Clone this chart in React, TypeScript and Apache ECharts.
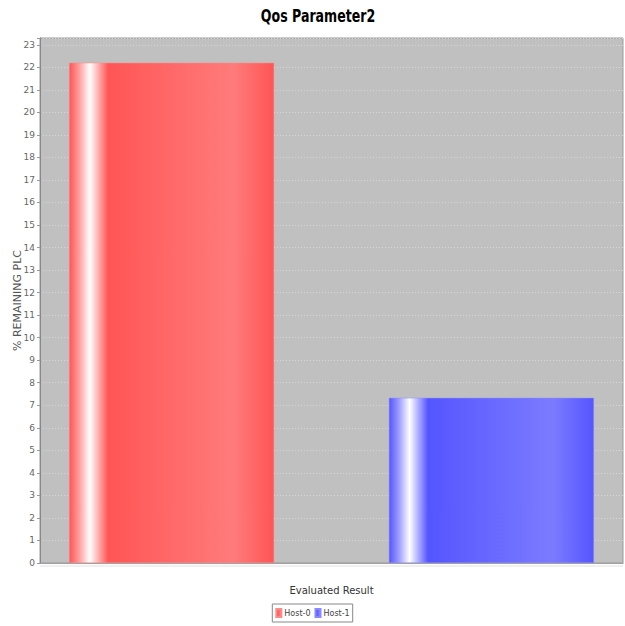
import React, { useEffect, useRef } from "react";
import * as echarts from "echarts";

const chartTitle = "Qos Parameter2";
const categories = [""];
const seriesNames = ["Host-0", "Host-1"];
const host0Values = [22.2];
const host1Values = [7.33];
const baseColors = ["#FF5555", "#5555FF"];
const lightColors = ["#FF7B7B", "#7B7BFF"];
const midColors = ["#FFA0A0", "#A0A0FF"];

// Shaded horizontal gradient, like a 3D-ish painted bar
const barGradient = (i: number) =>
  new echarts.graphic.LinearGradient(0, 0, 1, 0, [
    { offset: 0, color: baseColors[i] },
    { offset: 0.05, color: midColors[i] },
    { offset: 0.1, color: "#FFFFFF" },
    { offset: 0.15, color: midColors[i] },
    { offset: 0.19, color: baseColors[i] },
    { offset: 0.8, color: lightColors[i] },
    { offset: 0.801, color: lightColors[i] },
    { offset: 1, color: baseColors[i] },
  ]);

export default function App() {
  const ref = useRef<HTMLDivElement>(null);

  useEffect(() => {
    if (!ref.current) return;
    const chart = echarts.init(ref.current, undefined, { renderer: "svg" });
    const plain = "'DejaVu Sans', sans-serif";
    chart.setOption({
      animation: false,
      backgroundColor: "#FFFFFF",
      graphic: [
        // condensed bold title, squeezed horizontally
        {
          type: "text",
          x: 318,
          y: 16,
          scaleX: 0.74,
          style: {
            text: chartTitle,
            fill: "#000",
            font: "bold 17px 'DejaVu Sans', sans-serif",
            textAlign: "center",
            textVerticalAlign: "middle",
          },
        },
        // faint double rule under the plot area
        {
          type: "line",
          shape: { x1: 40, y1: 566, x2: 623, y2: 566 },
          style: { stroke: "#E2E2E2", lineWidth: 1 },
        },
      ],
      legend: {
        data: seriesNames,
        bottom: 4,
        left: "center",
        icon: "rect",
        itemWidth: 5,
        itemHeight: 8,
        itemGap: 4,
        padding: [4, 3],
        borderColor: "#888",
        borderWidth: 1,
        textStyle: { fontFamily: plain, fontSize: 8, color: "#444", padding: [0, 0, 0, -2] },
      },
      grid: {
        left: 40,
        right: 2,
        top: 38,
        bottom: 63,
        outerBoundsMode: "none",
        show: true,
        backgroundColor: "#C0C0C0",
        borderColor: "#9A9A9A",
        borderWidth: 1,
      },
      xAxis: {
        type: "category",
        data: categories,
        name: "Evaluated Result",
        nameLocation: "middle",
        nameGap: 22,
        nameTextStyle: { fontFamily: plain, fontSize: 10, color: "#333" },
        axisLine: { lineStyle: { color: "#A0A0A0" } },
        axisTick: { alignWithLabel: true, length: 3, lineStyle: { color: "#999" } },
        axisLabel: { show: false },
      },
      yAxis: {
        type: "value",
        min: 0,
        max: 23.3,
        interval: 1,
        name: "% REMAINING PLC",
        nameLocation: "middle",
        nameGap: 17,
        nameMoveOverlap: false,
        nameTextStyle: { fontFamily: plain, fontSize: 11, color: "#555" },
        axisLine: { show: true, lineStyle: { color: "#888" } },
        axisTick: { show: true, length: 3, lineStyle: { color: "#999" } },
        axisLabel: {
          fontFamily: plain,
          fontSize: 9,
          color: "#666",
          margin: 5,
          formatter: (v: number) => (Number.isInteger(v) ? String(v) : ""),
        },
        splitLine: {
          show: true,
          lineStyle: { color: "#D6D6D6", type: [1, 2], width: 1 },
        },
      },
      series: [
        {
          name: seriesNames[0],
          type: "bar",
          data: host0Values,
          barWidth: 205,
          barGap: "56%",
          itemStyle: { color: barGradient(0), borderColor: "#FF8A8A", borderWidth: 0.5 },
        },
        {
          name: seriesNames[1],
          type: "bar",
          data: host1Values,
          barWidth: 205,
          barGap: "56%",
          itemStyle: { color: barGradient(1), borderColor: "#8A8AFF", borderWidth: 0.5 },
        },
      ],
    });
    return () => chart.dispose();
  }, []);

  return (
    <div
      ref={ref}
      style={{ position: "fixed", left: 0, top: 0, width: 625, height: 626 }}
    />
  );
}
